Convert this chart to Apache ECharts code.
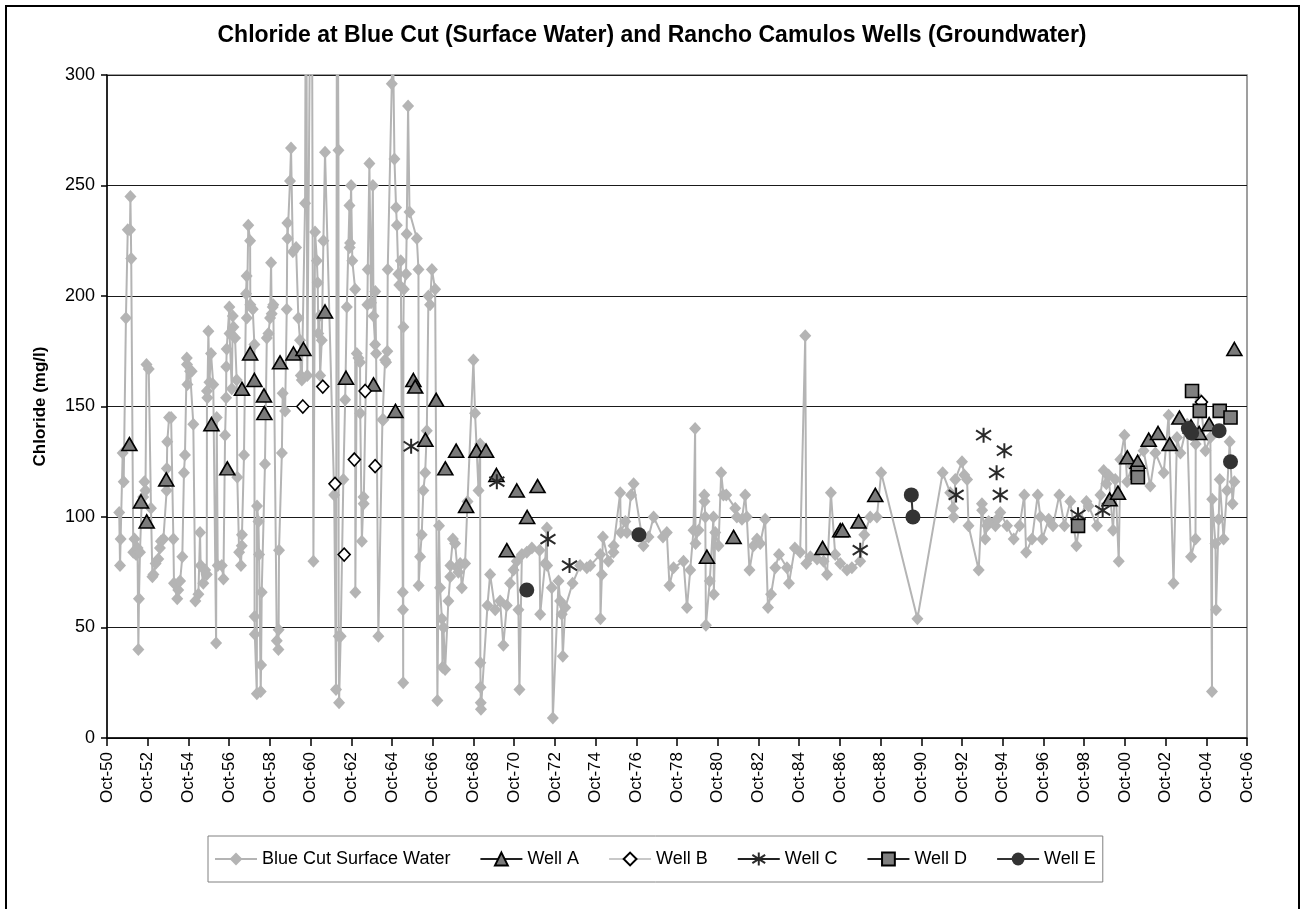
<!DOCTYPE html>
<html><head><meta charset="utf-8">
<script src="https://cdn.jsdelivr.net/npm/echarts@6/dist/echarts.min.js"></script>
<style>html,body{margin:0;padding:0;background:#fff}#c{width:1304px;height:909px}</style>
</head><body><div id="c"></div>
<script>
// ---- data: [decimal year, chloride mg/l] ----
const TITLE = 'Chloride at Blue Cut (Surface Water) and Rancho Camulos Wells (Groundwater)';
const Y_NAME = 'Chloride (mg/l)';
const SERIES_NAMES = ['Blue Cut Surface Water','Well A','Well B','Well C','Well D','Well E'];
const X_START_YEAR = 1950, X_END_YEAR = 2006, X_STEP_YEARS = 2; // ticks each October
const Y_MIN = 0, Y_MAX = 300, Y_STEP = 50;

const blueCut = [
[1951.35,102],[1951.39,78],[1951.42,90],[1951.52,129],[1951.57,116],[1951.68,190],[1951.77,230],[1951.88,230],[1951.90,245],[1951.94,217],
[1952.04,84],[1952.10,90],[1952.18,83],[1952.25,86],[1952.29,40],[1952.32,63],[1952.37,84],[1952.45,106],[1952.53,109],[1952.59,116],[1952.64,112],[1952.69,169],[1952.80,167],[1952.91,104],[1952.98,73],
[1953.03,74],[1953.14,79],[1953.27,81],[1953.35,86],[1953.40,89],[1953.52,90],[1953.68,112],[1953.69,122],[1953.71,134],[1953.80,145],[1953.90,145],
[1954.01,90],[1954.04,70],[1954.20,63],[1954.25,67],[1954.34,71],[1954.45,82],[1954.53,120],[1954.58,128],[1954.67,172],[1954.68,169],[1954.70,160],[1954.83,166],[1954.91,166],[1954.99,142],
[1955.09,62],[1955.24,65],[1955.32,93],[1955.35,78],[1955.48,70],[1955.57,76],[1955.65,74],[1955.66,157],[1955.68,154],[1955.73,184],[1955.78,161],[1955.86,174],[1955.97,160],
[1956.11,43],[1956.14,145],[1956.19,78],[1956.39,78],[1956.47,72],[1956.55,137],[1956.60,154],[1956.61,168],[1956.63,176],[1956.76,195],[1956.77,183],[1956.88,158],[1956.93,191],[1956.96,186],
[1957.04,181],[1957.12,162],[1957.15,118],[1957.24,84],[1957.33,78],[1957.37,87],[1957.38,92],[1957.48,128],[1957.58,201],[1957.61,209],[1957.62,190],[1957.69,232],[1957.78,225],[1957.79,196],[1957.91,194],[1957.99,178],
[1958.00,55],[1958.01,47],[1958.11,20],[1958.12,105],[1958.19,98],[1958.22,83],[1958.30,21],[1958.32,33],[1958.35,66],[1958.51,124],[1958.60,181],[1958.68,183],[1958.76,190],[1958.81,215],[1958.84,192],[1958.89,195],[1958.92,196],
[1959.09,44],[1959.17,40],[1959.18,49],[1959.20,85],[1959.34,129],[1959.38,156],[1959.50,148],[1959.58,194],[1959.61,233],[1959.62,226],[1959.74,252],[1959.79,267],[1959.88,220],
[1960.04,222],[1960.15,190],[1960.23,180],[1960.27,164],[1960.32,162],[1960.48,242],[1960.53,400],[1960.59,164],[1960.80,420],[1960.89,80],[1960.97,229],
[1961.06,216],[1961.10,206],[1961.13,183],[1961.18,191],[1961.22,164],[1961.30,180],[1961.38,225],[1961.46,265],[1961.91,110],
[1962.00,22],[1962.05,400],[1962.12,266],[1962.13,46],[1962.15,16],[1962.23,46],[1962.36,117],[1962.45,153],[1962.53,195],[1962.66,241],[1962.67,222],[1962.69,224],[1962.74,250],[1962.80,216],[1962.94,203],[1962.95,66],
[1963.02,174],[1963.10,172],[1963.18,170],[1963.19,147],[1963.27,89],[1963.35,109],[1963.36,106],[1963.54,196],[1963.56,212],[1963.64,260],[1963.72,197],[1963.81,250],[1963.84,191],[1963.92,178],[1963.93,202],[1963.97,174],
[1964.08,46],[1964.28,144],[1964.33,144],[1964.41,171],[1964.46,170],[1964.52,175],[1964.54,212],[1964.74,296],[1964.78,330],[1964.87,262],[1964.95,240],[1964.99,232],
[1965.06,210],[1965.11,205],[1965.18,216],[1965.28,66],[1965.29,58],[1965.30,25],[1965.31,186],[1965.33,203],[1965.44,210],[1965.47,228],[1965.54,286],[1965.61,238],[1965.97,226],
[1966.05,212],[1966.06,69],[1966.13,82],[1966.21,92],[1966.29,112],[1966.38,120],[1966.46,139],[1966.54,200],[1966.62,196],[1966.71,212],[1966.87,203],[1966.98,17],
[1967.06,96],[1967.11,68],[1967.20,54],[1967.23,32],[1967.28,50],[1967.36,31],[1967.52,62],[1967.61,73],[1967.62,78],[1967.74,90],[1967.85,88],[1967.96,77],
[1968.01,75],[1968.10,79],[1968.18,68],[1968.34,79],[1968.46,107],[1968.75,171],[1968.83,147],
[1969.00,112],[1969.08,133],[1969.09,34],[1969.10,23],[1969.11,16],[1969.12,13],[1969.44,60],[1969.57,74],[1969.82,58],
[1970.06,62],[1970.22,42],[1970.39,60],[1970.55,70],[1970.72,76],[1970.88,80],[1970.96,58],
[1971.01,22],[1971.13,83],[1971.37,84],[1971.62,86],[1972.00,85],[1972.03,56],[1972.27,79],[1972.36,95],[1972.37,78],[1972.60,68],[1972.65,9],[1972.93,71],
[1973.01,62],[1973.09,56],[1973.14,37],[1973.26,59],[1973.62,70],[1973.99,78],[1974.32,77],[1974.49,78],[1974.98,83],[1974.99,54],
[1975.06,74],[1975.11,91],[1975.38,80],[1975.63,84],[1975.64,87],[1975.96,111],[1975.99,93],[1976.21,98],[1976.29,93],[1976.49,110],[1976.62,115],
[1977.10,87],[1977.35,91],[1977.60,100],[1978.06,91],[1978.25,93],[1978.38,69],[1978.58,77],[1979.07,80],[1979.24,59],[1979.40,76],[1979.56,94],[1979.64,140],[1979.66,88],[1979.81,94],
[1980.09,110],[1980.10,107],[1980.14,100],[1980.17,51],[1980.36,71],[1980.54,100],[1980.56,65],[1980.63,93],[1980.79,87],[1980.92,120],[1981.03,110],[1981.17,110],[1981.61,104],[1981.69,100],[1981.94,99],
[1982.10,110],[1982.18,100],[1982.31,76],[1982.51,87],[1982.68,90],[1982.84,88],[1983.08,99],[1983.22,59],[1983.37,65],[1983.58,77],[1983.76,83],
[1984.15,77],[1984.25,70],[1984.54,86],[1984.80,84],[1985.05,182],[1985.10,79],[1985.30,82],[1985.63,81],[1985.95,80],[1986.12,74],[1986.31,111],[1986.52,83],[1986.77,79],
[1987.10,76],[1987.34,77],[1987.75,80],[1987.95,92],[1988.24,100],[1988.57,100],[1988.78,120],[1990.56,54],[1991.80,120],
[1992.17,111],[1992.31,104],[1992.34,100],[1992.42,117],[1992.75,125],[1992.86,119],[1993.00,117],[1993.07,96],[1993.57,76],[1993.73,106],[1993.74,103],[1993.89,90],[1993.98,96],
[1994.06,98],[1994.39,96],[1994.47,99],[1994.63,102],[1994.96,96],[1995.29,90],[1995.58,96],[1995.81,110],[1995.90,84],[1996.19,90],[1996.47,110],[1996.60,100],[1996.69,90],
[1997.01,99],[1997.22,96],[1997.53,110],[1997.78,96],[1998.07,107],[1998.37,87],[1998.56,99],[1998.86,107],[1998.97,105],[1999.38,96],[1999.55,110],[1999.71,121],[1999.84,115],[1999.95,119],
[2000.17,94],[2000.28,117],[2000.45,80],[2000.53,126],[2000.73,137],[2000.86,116],[2001.10,123],[2001.67,130],[2002.00,114],[2002.25,129],[2002.66,120],[2002.90,146],
[2003.14,70],[2003.31,136],[2003.48,129],[2003.81,142],[2004.00,82],[2004.22,90],[2004.23,133],[2004.46,153],[2004.71,130],[2004.95,136],
[2005.03,21],[2005.04,108],[2005.20,88],[2005.23,58],[2005.36,99],[2005.41,117],[2005.60,90],[2005.77,112],[2005.90,134],[2006.04,106],[2006.13,116]
];

const wellA = [
[1951.85,133],[1952.42,107],[1952.70,98],[1953.66,117],[1955.88,142],[1956.66,122],[1957.38,158],[1957.78,174],[1957.99,162],[1958.46,155],[1958.48,147],
[1959.25,170],[1959.91,174],[1960.40,176],[1961.46,193],[1962.49,163],[1963.84,160],[1964.92,148],[1965.80,162],[1965.89,159],[1966.39,135],[1966.92,153],
[1967.37,122],[1967.90,130],[1968.39,105],[1968.90,130],[1969.37,130],[1969.88,119],[1970.39,85],[1970.88,112],[1971.39,100],[1971.90,114],
[1980.22,82],[1981.53,91],[1985.90,86],[1986.77,94],[1986.88,94],[1987.67,98],[1988.49,110],
[2000.00,108],[2000.41,111],[2000.87,127],[2001.38,125],[2001.92,135],[2002.38,138],[2002.95,133],[2003.43,145],[2004.00,141],[2004.40,138],[2004.89,142],[2006.13,176]
];
const wellB = [
[1960.37,150],[1961.35,159],[1961.95,115],[1962.40,83],[1962.90,126],[1963.43,157],[1963.92,123],[2004.51,152]
];
const wellC = [
[1965.69,132],[1969.90,116],[1972.41,90],[1973.47,78],[1987.75,85],[1992.46,110],[1993.81,137],[1994.45,120],[1994.63,110],[1994.83,130],[1998.45,101],[1999.66,103]
];
const wellD = [
[1998.45,96],[2001.38,120],[2001.39,118],[2004.05,157],[2004.43,148],[2005.41,148],[2005.94,145]
];
// runs of consecutive samples (a run is drawn joined)
const wellERuns = [
[[1971.37,67]],[[1976.88,92]],[[1990.26,110],[1990.34,100]],[[2003.87,140]],[[2004.03,138]],[[2005.38,139]],[[2005.94,125]]
];

// ---- helpers ----
const MONTHS0 = (X_START_YEAR + 0.75);
const toX = y => (y - MONTHS0) * 12;             // months since Oct of first year
const conv = arr => arr.map(p => [toX(p[0]), p[1]]);
function runsToData(runs){
  const out = [];
  runs.forEach((run, i) => {
    run.forEach(p => out.push([toX(p[0]), p[1]]));
    if (i < runs.length - 1) out.push([toX(run[run.length-1][0]), '-']);
  });
  return out;
}
const single = arr => arr.map(p => [p]);

const STAR = 'path://M5,0L5,10M1.2,1.8L8.8,8.2M1.2,8.2L8.8,1.8';

const chart = echarts.init(document.getElementById('c'), null, {renderer:'canvas'});
const FONT = '"Liberation Sans", Arial, sans-serif';
chart.setOption({
  backgroundColor:'#fff',
  animation:false,
  textStyle:{fontFamily:FONT, color:'#000'},
  title:{text:TITLE, left:'center', top:19, textStyle:{fontFamily:FONT, fontSize:23, fontWeight:'bold', color:'#000'}},
  graphic:[{type:'rect', shape:{x:6, y:6, width:1293, height:920}, style:{fill:'none', stroke:'#000', lineWidth:2}, silent:true, z:-1}],
  grid:{left:107, right:57, top:75, bottom:171, show:true, borderColor:'#808080', borderWidth:1.5, backgroundColor:'transparent'},
  legend:{
    left:208, top:836, orient:'horizontal',
    padding:[14,7,14,6], itemGap:29, itemWidth:42, itemHeight:16,
    borderColor:'#808080', borderWidth:1, borderRadius:0,
    textStyle:{fontFamily:FONT, fontSize:18, color:'#000'},
    data:SERIES_NAMES
  },
  xAxis:{
    type:'value', min:0, max:toX(X_END_YEAR+0.75), interval:X_STEP_YEARS*12,
    axisLine:{lineStyle:{color:'#000', width:1.5}},
    axisTick:{length:8, lineStyle:{color:'#000', width:1.5}},
    splitLine:{show:false},
    axisLabel:{rotate:90, margin:14, fontSize:17, color:'#000', fontFamily:FONT,
      formatter:v => { const yr = Math.round(X_START_YEAR + v/12); return 'Oct-' + String(yr % 100).padStart(2,'0'); }}
  },
  yAxis:{
    type:'value', min:Y_MIN, max:Y_MAX, interval:Y_STEP,
    name:Y_NAME, nameLocation:'middle', nameGap:58, nameRotate:90,
    nameTextStyle:{fontFamily:FONT, fontSize:17, fontWeight:'bold', color:'#000'},
    axisLine:{show:true, lineStyle:{color:'#000', width:1.5}},
    axisTick:{show:true, length:6, lineStyle:{color:'#000', width:1.5}},
    splitLine:{lineStyle:{color:'#1a1a1a', width:1}},
    axisLabel:{margin:12, fontSize:18, color:'#000', fontFamily:FONT}
  },
  series:[
    {name:SERIES_NAMES[0], type:'line', data:conv(blueCut), clip:true,
     symbol:'diamond', symbolSize:[12,13], showAllSymbol:true,
     lineStyle:{color:'#b4b4b4', width:2}, itemStyle:{color:'#b4b4b4'}, z:2},
    {name:SERIES_NAMES[1], type:'line', data:runsToData(single(wellA)),
     symbol:'triangle', symbolSize:[15,13], showAllSymbol:true,
     lineStyle:{color:'#222', width:2}, itemStyle:{color:'#7a7a7a', borderColor:'#000', borderWidth:1.6}, z:3},
    {name:SERIES_NAMES[2], type:'line', data:runsToData(single(wellB)),
     symbol:'diamond', symbolSize:[12,13], showAllSymbol:true,
     lineStyle:{color:'#c8c8c8', width:2}, itemStyle:{color:'#fff', borderColor:'#000', borderWidth:1.6}, z:3},
    {name:SERIES_NAMES[3], type:'line', data:runsToData(single(wellC)),
     symbol:STAR, symbolSize:15, showAllSymbol:true,
     lineStyle:{color:'#222', width:2}, itemStyle:{color:'rgba(0,0,0,0)', borderColor:'#2a2a2a', borderWidth:2}, z:3},
    {name:SERIES_NAMES[4], type:'line', data:runsToData(single(wellD)),
     symbol:'rect', symbolSize:13, showAllSymbol:true,
     lineStyle:{color:'#222', width:2}, itemStyle:{color:'#808080', borderColor:'#000', borderWidth:1.6}, z:3},
    {name:SERIES_NAMES[5], type:'line', data:runsToData(wellERuns),
     symbol:'circle', symbolSize:15, showAllSymbol:true,
     lineStyle:{color:'#333', width:2}, itemStyle:{color:'#333'}, z:3}
  ]
});
</script></body></html>
